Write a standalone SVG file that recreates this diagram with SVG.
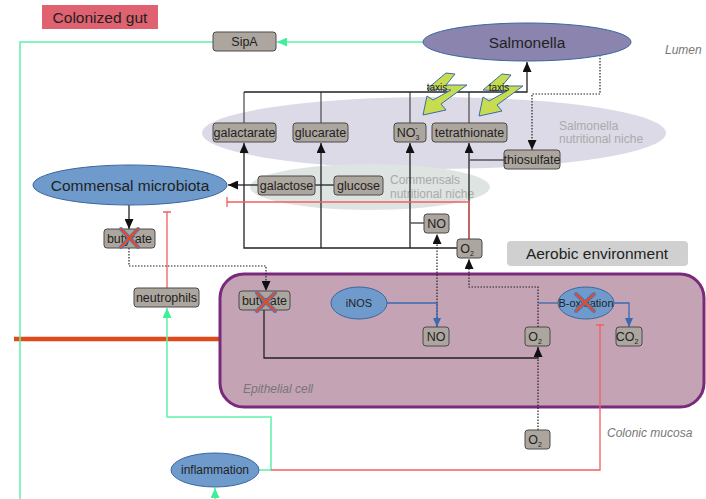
<svg xmlns="http://www.w3.org/2000/svg" width="706" height="499" viewBox="0 0 706 499">
<style>
text{font-family:"Liberation Sans",Arial,sans-serif;fill:#222}
.box{fill:#ada69f;stroke:#4a4a4a;stroke-width:1}
.bt{font-size:12.5px;text-anchor:middle}
.big{font-size:15.5px;text-anchor:middle}
.it{font-size:12px;font-style:italic;fill:#777}
.niche{font-size:12px;fill:#aaa}
.blk{fill:none;stroke:#222;stroke-width:1.3}
.gry{fill:none;stroke:#555;stroke-width:1.3}
.dot{fill:none;stroke:#222;stroke-width:1.2;stroke-dasharray:1.5,1.5}
.grn{fill:none;stroke:#5ef2a8;stroke-width:1.5}
.red{fill:none;stroke:#f06060;stroke-width:1.3}
.blu{fill:none;stroke:#3a6ab0;stroke-width:1.3}
.ell{fill:#6f9bcc;stroke:#3a66a0;stroke-width:1}
.xb{stroke:#4a78c0;stroke-width:4;stroke-linecap:round}
.xr{stroke:#f04818;stroke-width:2;stroke-linecap:round}
.bolt{fill:#c8dc50;stroke:#3a6ab0;stroke-width:1}
</style>
<defs>
<marker id="ab" markerUnits="userSpaceOnUse" markerWidth="10" markerHeight="9" refX="10" refY="4.5" orient="auto"><path d="M0,0 L10,4.5 L0,9 z" fill="#111"/></marker>
<marker id="ag" markerUnits="userSpaceOnUse" markerWidth="10" markerHeight="9" refX="10" refY="4.5" orient="auto"><path d="M0,0 L10,4.5 L0,9 z" fill="#3ef09a"/></marker>
<marker id="au" markerUnits="userSpaceOnUse" markerWidth="9" markerHeight="8" refX="9" refY="4" orient="auto"><path d="M0,0 L9,4 L0,8 z" fill="#3a6ab0"/></marker>
<polygon id="boltshape" points="446,73 455,74 446,85 467,85 441,104 446,110 423,115 427,96 433,100 451,90 427,89"/>
</defs>
<rect width="706" height="499" fill="#fff"/>

<!-- backgrounds -->
<ellipse cx="434" cy="133" rx="232" ry="36" fill="#dcdae6"/>
<ellipse cx="370" cy="187" rx="120" ry="23" fill="#dee4e1"/>
<text class="niche" x="559" y="130">Salmonella</text>
<text class="niche" x="559" y="143">nutritional niche</text>
<text class="niche" x="390" y="184">Commensals</text>
<text class="niche" x="390" y="198">nutritional niche</text>

<g id="colonized-gut"><rect x="42" y="5" width="116" height="24" fill="#e0616f"/><text class="big" x="100" y="23">Colonized gut</text></g>
<text class="it" x="665" y="54">Lumen</text>
<g id="aerobic"><rect x="507" y="241" width="181" height="25" rx="4" fill="#d0d0d0"/><text class="big" x="597" y="259">Aerobic environment</text></g>

<line x1="14" y1="339" x2="222" y2="339" stroke="#e04a1a" stroke-width="4.5"/>
<g id="epithelial-cell"><rect x="220" y="274" width="484" height="133" rx="24" fill="#c4a3b4" stroke="#7a2a7a" stroke-width="3"/><text class="it" x="243" y="393">Epithelial cell</text></g>
<text class="it" x="607" y="437">Colonic mucosa</text>

<g id="connectors">
<path class="grn" d="M423,42 L277,42" marker-end="url(#ag)"/>
<path class="grn" d="M213,42 L20,42 L20,499"/>
<path class="grn" d="M259,470 L271,470 L271,417 L167,417 L167,308" marker-end="url(#ag)"/>
<path class="grn" d="M215,499 L215,488" marker-end="url(#ag)"/>
<path class="red" d="M271,470 L600,470 L600,325 M596,325 L604,325"/>
<path class="red" d="M167,288 L167,212 M163,212 L171,212"/>
<path class="gry" d="M244,123 L244,92 M321,123 L321,92 M410,123 L410,92 M469,123 L469,92"/>
<path class="blk" d="M244,92 L527,92 L527,62" marker-end="url(#ab)"/>
<path class="blk" d="M457,248 L244,248 L244,143" marker-end="url(#ab)"/>
<path class="blk" d="M321,248 L321,143" marker-end="url(#ab)"/>
<path class="blk" d="M410,248 L410,143" marker-end="url(#ab)"/>
<path class="blk" d="M469,239 L469,143" marker-end="url(#ab)"/>
<path class="gry" d="M410,223 L424,223 M504,160 L469,160"/>
<path class="red" d="M469,239 L469,202 L227,202 M227,197 L227,207"/>
<path class="dot" d="M600,55 L600,94 L532,94 L532,150" marker-end="url(#ab)"/>
<path class="blk" d="M258,185 L228,185" marker-end="url(#ab)"/>
<path class="blk" d="M315,185 L334,185"/>
<path class="blk" d="M129,205 L129,229" marker-end="url(#ab)"/>
<path class="dot" d="M129,248 L129,266 L266,266 L266,291" marker-end="url(#ab)"/>
<path class="blk" d="M264,310 L264,358 L538,358 L538,347" marker-end="url(#ab)"/>
<path class="dot" d="M538,430 L538,358"/>
<path class="dot" d="M437,327 L437,234" marker-end="url(#ab)"/>
<path class="blu" d="M387,303 L437,303 L437,327" marker-end="url(#au)"/>
<path class="dot" d="M538,327 L538,287 L469,287 L469,259" marker-end="url(#ab)"/>
<path class="blu" d="M538,303 L558,303"/>
<path class="blu" d="M614,303 L629,303 L629,327" marker-end="url(#au)"/>
</g>

<g id="taxis1"><use href="#boltshape" class="bolt"/><text x="437" y="91" font-size="10" text-anchor="middle">taxis</text></g>
<g id="taxis2"><use href="#boltshape" class="bolt" transform="translate(56,1)"/><text x="499" y="91" font-size="10" text-anchor="middle">taxis</text></g>

<g id="salmonella"><ellipse cx="527" cy="42" rx="104" ry="19" fill="#8b84ae" stroke="#3a66a0" stroke-width="1"/><text class="big" x="527" y="48">Salmonella</text></g>
<g id="commensal"><ellipse class="ell" cx="130" cy="185" rx="97" ry="20"/><text class="big" x="130" y="191">Commensal microbiota</text></g>
<g id="inos"><ellipse class="ell" cx="359" cy="303" rx="28" ry="16"/><text x="359" y="307" font-size="11" text-anchor="middle">iNOS</text></g>
<g id="boxidation"><ellipse class="ell" cx="586" cy="303" rx="28" ry="16"/><text x="586" y="307" font-size="11" text-anchor="middle">B-oxidation</text>
<path class="xb" d="M576,294 L594,311 M594,294 L576,311"/><path class="xr" d="M576,294 L594,311 M594,294 L576,311"/></g>
<g id="inflammation"><ellipse class="ell" cx="215" cy="470" rx="44" ry="17"/><text x="215" y="474" font-size="12" text-anchor="middle">inflammation</text></g>

<g id="sipa"><rect class="box" x="213" y="32" width="63" height="19" rx="3"/><text class="bt" x="244.5" y="46">SipA</text></g>
<g id="galactarate"><rect class="box" x="213" y="123" width="63" height="19" rx="3"/><text class="bt" x="244.5" y="137">galactarate</text></g>
<g id="glucarate"><rect class="box" x="293" y="123" width="55" height="19" rx="3"/><text class="bt" x="320.5" y="137">glucarate</text></g>
<g id="no3"><rect class="box" x="394" y="123" width="32" height="19" rx="3"/><text class="bt" x="408" y="137">NO<tspan font-size="7" dy="3">3</tspan><tspan font-size="7" dx="-4" dy="-10">-</tspan></text></g>
<g id="tetrathionate"><rect class="box" x="432" y="123" width="75" height="19" rx="3"/><text class="bt" x="469.5" y="137">tetrathionate</text></g>
<g id="thiosulfate"><rect class="box" x="504" y="150" width="56" height="19" rx="3"/><text class="bt" x="532" y="164">thiosulfate</text></g>
<g id="galactose"><rect class="box" x="258" y="176" width="57" height="19" rx="3"/><text class="bt" x="286.5" y="190">galactose</text></g>
<g id="glucose"><rect class="box" x="334" y="176" width="49" height="19" rx="3"/><text class="bt" x="358.5" y="190">glucose</text></g>
<g id="no-lumen"><rect class="box" x="424" y="214" width="25" height="19" rx="3"/><text class="bt" x="436.5" y="228">NO</text></g>
<g id="o2-lumen"><rect class="box" x="457" y="239" width="25" height="19" rx="3"/><text class="bt" x="467" y="253">O<tspan font-size="7" dy="3">2</tspan></text></g>
<g id="butyrate-lumen"><rect class="box" x="104" y="229" width="51" height="19" rx="3"/><text class="bt" x="129.5" y="243">butyrate</text>
<path class="xb" d="M121,229 L138,247 M138,229 L121,247"/><path class="xr" d="M121,229 L138,247 M138,229 L121,247"/></g>
<g id="neutrophils"><rect class="box" x="134" y="288" width="65" height="19" rx="3"/><text class="bt" x="166.5" y="302">neutrophils</text></g>
<g id="butyrate-cell"><rect class="box" x="239" y="291" width="51" height="19" rx="3"/><text class="bt" x="264.5" y="305">butyrate</text>
<path class="xb" d="M257,293 L275,311 M275,293 L257,311"/><path class="xr" d="M257,293 L275,311 M275,293 L257,311"/></g>
<g id="no-cell"><rect class="box" x="423" y="327" width="26" height="19" rx="3"/><text class="bt" x="436" y="341">NO</text></g>
<g id="o2-cell"><rect class="box" x="525" y="327" width="25" height="19" rx="3"/><text class="bt" x="535" y="341">O<tspan font-size="7" dy="3">2</tspan></text></g>
<g id="co2"><rect class="box" x="616" y="327" width="26" height="19" rx="3"/><text class="bt" x="627" y="341">CO<tspan font-size="7" dy="3">2</tspan></text></g>
<g id="o2-mucosa"><rect class="box" x="525" y="430" width="25" height="19" rx="3"/><text class="bt" x="535" y="444">O<tspan font-size="7" dy="3">2</tspan></text></g>
</svg>
